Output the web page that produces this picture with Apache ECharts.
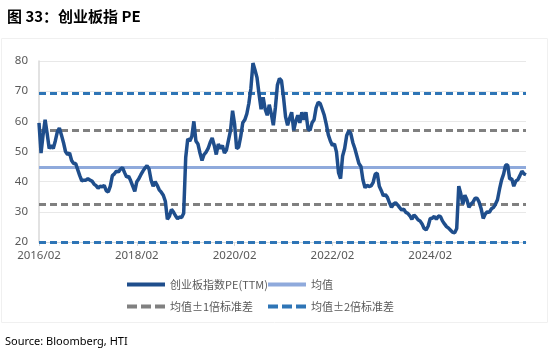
<!DOCTYPE html>
<html>
<head>
<meta charset="utf-8">
<script src="https://cdn.jsdelivr.net/npm/echarts@6/dist/echarts.min.js"></script>
<style>
  html, body { margin: 0; padding: 0; background: #fff; }
  #chart { width: 550px; height: 352px; }
</style>
</head>
<body>
<div id="chart"></div>
<script>
// semi-monthly dates, 2016/02/01 .. 2026/01/16
const dates = []
for (let k = 0; k < 240; k++) {
  const m = 1 + Math.floor(k / 2)
  const y = 2016 + Math.floor(m / 12)
  const mm = (m % 12) + 1
  dates.push(y + '/' + String(mm).padStart(2, '0') + (k % 2 ? '/16' : '/01'))
}

// ChiNext index PE (TTM)
const pe = [
  59.5, 49.5, 55.5, 60.5, 56, 51, 52, 51, 53.5, 56.5,
  57.8, 55.5, 53, 50, 49, 49.5, 47, 46, 46, 44,
  42, 40.3, 40.5, 40.5, 41, 40.5, 40.2, 39.2, 38.7, 37.8,
  38.5, 38.3, 38.8, 37, 36.6, 38.5, 42, 42.6, 43.5, 43.2,
  44.2, 44.6, 43, 41.5, 41.8, 40.3, 38.5, 36.8, 40, 41,
  42.3, 43.5, 44.5, 45.3, 44.2, 40.5, 38.5, 40, 38.8, 37.3,
  36.5, 35.5, 33.5, 27.5, 28.5, 30.8, 29.9, 28.7, 27.7, 28.3,
  28.1, 29.5, 48, 54.2, 53.5, 55, 60, 53.5, 52.5, 49.5,
  47, 49, 49.8, 51, 53, 54.5, 52, 49, 52.5, 51,
  52, 49.5, 50.5, 53.8, 57, 63.5, 59, 51, 51.5, 55,
  59.5, 60.5, 62.5, 66, 71, 79.3, 77, 74.5, 69, 64,
  68, 64, 62, 65.5, 62.5, 58.7, 64.5, 72, 74.2, 73.5,
  68, 61.5, 58.7, 61, 63, 57, 60, 62, 59.5, 63,
  60.5, 63, 57.5, 57, 59.5, 60.5, 64.5, 66.3, 65.9, 64,
  62, 59, 55.5, 53.5, 52, 52.5, 49.8, 43, 41, 48.5,
  51, 55.3, 56.8, 56, 53, 51, 48.5, 46, 45, 40.5,
  38, 38.8, 38.4, 38.6, 39.8, 42.5, 42.8, 38.5, 37, 35.3,
  35.7, 34.8, 33, 31.5, 32.6, 33, 32.3, 31.4, 30.6, 30.9,
  29.8, 29.5, 28.7, 27.5, 29, 28.3, 27.4, 27, 26, 24.5,
  24, 25.3, 27.8, 27.9, 28.5, 27.5, 28.6, 28.5, 27, 26,
  25.1, 24.6, 23.9, 23.2, 23.1, 24.5, 38.5, 36, 32.5, 35.5,
  34, 31.5, 32.6, 33.2, 34.5, 34.5, 33.2, 31, 27.8, 29.3,
  30, 29.8, 31, 31.4, 32.5, 34, 37.5, 40.5, 42.5, 45.5,
  45.5, 40.9, 41, 38.5, 40.2, 40.6, 42, 43.5, 42.6, 42.3
]

const mean = 44.7
const sd = 12.35

const names = ['创业板指数PE(TTM)', '均值', '均值±1倍标准差', '均值±2倍标准差']

const solidIcon = 'path://M0,0h38v4h-38z'
const dashIcon = 'path://M0,0h10v4h-10z M14,0h10v4h-10z M28,0h10v4h-10z'

const chart = echarts.init(document.getElementById('chart'))

const legendText = { fontFamily: 'Noto Sans CJK SC', fontSize: 11, color: '#595959' }

chart.setOption({
  animation: false,
  textStyle: { fontFamily: 'Noto Sans, Noto Sans CJK SC' },
  title: [
    {
      text: '图 33：创业板指 PE',
      left: 2,
      top: 4,
      textStyle: { fontFamily: 'Noto Sans CJK SC', fontSize: 15, fontWeight: 'bold', color: '#000' }
    },
    {
      text: 'Source: Bloomberg, HTI',
      left: 0,
      top: 331,
      textStyle: { fontFamily: 'Noto Sans', fontSize: 11, fontWeight: 'normal', color: '#000' }
    }
  ],
  graphic: [
    {
      type: 'rect',
      shape: { x: 1.5, y: 38.5, width: 546, height: 284 },
      style: { fill: 'none', stroke: '#f0f0f0', lineWidth: 1 },
      silent: true
    }
  ],
  legend: [
    { data: [{ name: names[0], icon: solidIcon }], left: 122, top: 274 },
    { data: [{ name: names[1], icon: solidIcon }], left: 263, top: 274 },
    { data: [{ name: names[2], icon: dashIcon }], left: 122, top: 296 },
    { data: [{ name: names[3], icon: dashIcon }], left: 263, top: 296 }
  ].map(l => Object.assign(l, {
    itemWidth: 38,
    itemHeight: 4,
    itemGap: 4,
    textStyle: legendText
  })),
  grid: { left: 39, right: 24, top: 61, bottom: 110 },
  xAxis: {
    type: 'category',
    data: dates,
    boundaryGap: false,
    axisLine: { lineStyle: { color: '#d9d9d9', width: 1 } },
    axisTick: { interval: 47, length: 4, lineStyle: { color: '#d9d9d9' } },
    axisLabel: {
      interval: 47,
      margin: 8,
      fontSize: 11.5,
      color: '#595959',
      formatter: v => v.slice(0, 7)
    },
    splitLine: { show: false }
  },
  yAxis: {
    type: 'value',
    min: 20,
    max: 80,
    interval: 10,
    axisLine: { show: true, lineStyle: { color: '#d9d9d9', width: 1.5 } },
    axisTick: { show: false },
    axisLabel: { margin: 11, fontSize: 11.5, color: '#595959' },
    splitLine: { lineStyle: { color: '#e8e8e8', width: 1 } }
  },
  series: [
    {
      name: names[1],
      type: 'line',
      data: [],
      color: '#8faadc',
      symbol: 'none',
      markLine: {
        silent: true,
        symbol: 'none',
        label: { show: false },
        lineStyle: { color: '#8faadc', width: 3, type: 'solid' },
        data: [{ yAxis: mean }]
      }
    },
    {
      name: names[2],
      type: 'line',
      data: [],
      color: '#808080',
      symbol: 'none',
      markLine: {
        silent: true,
        symbol: 'none',
        label: { show: false },
        lineStyle: { color: '#808080', width: 3, type: [7, 4] },
        data: [{ yAxis: mean + sd }, { yAxis: mean - sd }]
      }
    },
    {
      name: names[3],
      type: 'line',
      data: [],
      color: '#2e75b6',
      symbol: 'none',
      markLine: {
        silent: true,
        symbol: 'none',
        label: { show: false },
        lineStyle: { color: '#2e75b6', width: 3, type: [7, 4] },
        data: [{ yAxis: mean + 2 * sd }, { yAxis: mean - 2 * sd }]
      }
    },
    {
      name: names[0],
      type: 'line',
      data: pe,
      color: '#1f4e8c',
      lineStyle: { width: 3.5 },
      symbol: 'none',
      z: 5
    }
  ]
})
</script>
</body>
</html>
